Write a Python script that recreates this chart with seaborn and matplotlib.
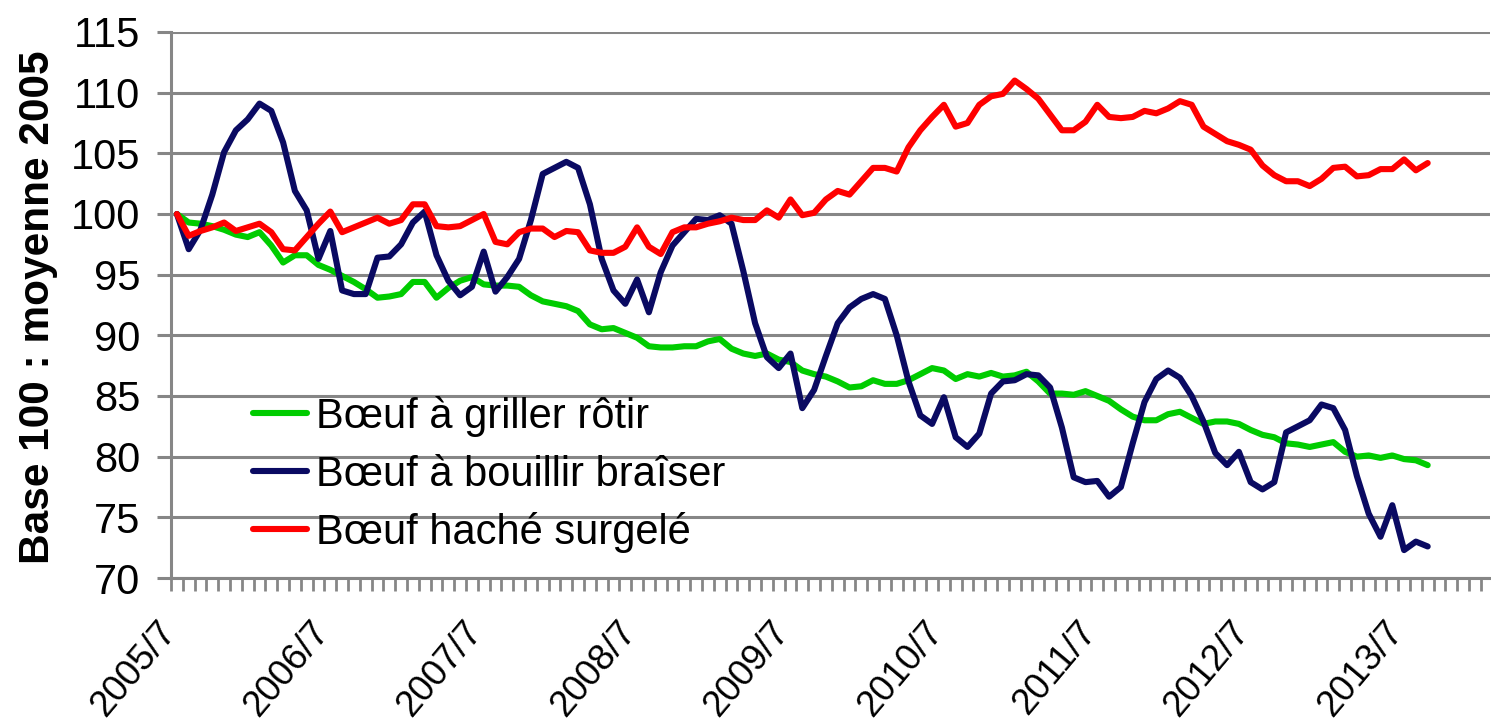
import numpy as np
import pandas as pd
import matplotlib
matplotlib.use("Agg")
import matplotlib.pyplot as plt
import seaborn as sns

# ---------------- DONNEES (périodes de 4 semaines, 13 par an) ---------------- #

GRILLER = [
    100.0, 99.3, 99.2, 99.0, 98.7, 98.3, 98.1, 98.5, 97.4, 96.0,
    96.6, 96.6, 95.8, 95.4, 94.9, 94.4, 93.8, 93.1, 93.2, 93.4,
    94.4, 94.4, 93.1, 93.9, 94.5, 94.8, 94.2, 94.1, 94.1, 94.0,
    93.3, 92.8, 92.6, 92.4, 92.0, 90.9, 90.5, 90.6, 90.2, 89.8,
    89.1, 89.0, 89.0, 89.1, 89.1, 89.5, 89.7, 88.9, 88.5, 88.3,
    88.5, 88.0, 87.8, 87.1, 86.8, 86.6, 86.2, 85.7, 85.8, 86.3,
    86.0, 86.0, 86.3, 86.8, 87.3, 87.1, 86.4, 86.8, 86.6, 86.9,
    86.6, 86.7, 87.0, 86.2, 85.2, 85.2, 85.1, 85.4, 85.0, 84.6,
    83.9, 83.3, 83.0, 83.0, 83.5, 83.7, 83.2, 82.7, 82.9, 82.9,
    82.7, 82.2, 81.8, 81.6, 81.1, 81.0, 80.8, 81.0, 81.2, 80.4,
    80.0, 80.1, 79.9, 80.1, 79.8, 79.7, 79.3,
]

BOUILLIR = [
    100.0, 97.1, 98.7, 101.6, 105.1, 106.9, 107.8, 109.1, 108.5, 105.9,
    101.9, 100.3, 96.3, 98.6, 93.7, 93.4, 93.4, 96.4, 96.5, 97.5,
    99.3, 100.2, 96.6, 94.5, 93.3, 94.0, 96.9, 93.6, 94.8, 96.3,
    99.5, 103.3, 103.8, 104.3, 103.8, 100.8, 96.3, 93.7, 92.6, 94.6,
    91.9, 95.2, 97.4, 98.5, 99.6, 99.5, 99.9, 99.2, 95.3, 91.0,
    88.2, 87.3, 88.5, 84.0, 85.5, 88.3, 91.0, 92.3, 93.0, 93.4,
    93.0, 90.0, 86.2, 83.4, 82.7, 84.9, 81.6, 80.8, 81.9, 85.2,
    86.2, 86.3, 86.8, 86.7, 85.7, 82.4, 78.3, 77.9, 78.0, 76.7,
    77.5, 81.1, 84.5, 86.4, 87.1, 86.5, 85.0, 82.9, 80.3, 79.3,
    80.4, 77.9, 77.3, 77.9, 82.0, 82.5, 83.0, 84.3, 84.0, 82.2,
    78.4, 75.3, 73.4, 76.0, 72.3, 73.0, 72.6,
]

HACHE = [
    100.0, 98.2, 98.6, 98.9, 99.3, 98.6, 98.9, 99.2, 98.5, 97.1,
    97.0, 98.1, 99.2, 100.2, 98.5, 98.9, 99.3, 99.7, 99.2, 99.5,
    100.8, 100.8, 99.0, 98.9, 99.0, 99.5, 100.0, 97.7, 97.5, 98.5,
    98.8, 98.8, 98.1, 98.6, 98.5, 97.0, 96.8, 96.8, 97.3, 98.9,
    97.3, 96.7, 98.5, 98.9, 98.9, 99.2, 99.4, 99.7, 99.5, 99.5,
    100.3, 99.7, 101.2, 99.9, 100.1, 101.2, 101.9, 101.6, 102.7, 103.8,
    103.8, 103.5, 105.5, 106.9, 108.0, 109.0, 107.2, 107.5, 109.0, 109.7,
    109.9, 111.0, 110.3, 109.5, 108.2, 106.9, 106.9, 107.6, 109.0, 108.0,
    107.9, 108.0, 108.5, 108.3, 108.7, 109.3, 109.0, 107.2, 106.6, 106.0,
    105.7, 105.3, 104.0, 103.2, 102.7, 102.7, 102.3, 102.9, 103.8, 103.9,
    103.1, 103.2, 103.7, 103.7, 104.5, 103.6, 104.2,
]

NOMS = ["Bœuf à griller rôtir", "Bœuf à bouillir braîser", "Bœuf haché surgelé"]
COULEURS = ["#00CC00", "#0A0A62", "#FF0000"]
TICK_LABELS = ["2005/7", "2006/7", "2007/7", "2008/7", "2009/7",
               "2010/7", "2011/7", "2012/7", "2013/7"]
PERIODES_PAR_AN = 13
N_CATEGORIES = 112

# ---------------- GRAPHIQUE ---------------- #

def main() -> None:
    df = pd.DataFrame({
        "periode": np.arange(len(GRILLER)),
        NOMS[0]: GRILLER,
        NOMS[1]: BOUILLIR,
        NOMS[2]: HACHE,
    }).melt(id_vars="periode", var_name="produit", value_name="indice")

    sns.set_theme(style="white")
    plt.rcParams["font.family"] = ["Liberation Sans", "DejaVu Sans"]
    plt.rcParams["text.color"] = "black"
    plt.rcParams["axes.labelcolor"] = "black"

    fig = plt.figure(figsize=(14.91, 7.23), dpi=100)
    ax = fig.add_axes([171 / 1491, 145 / 723, 1319 / 1491, 546 / 723])

    sns.lineplot(data=df, x="periode", y="indice", hue="produit",
                 hue_order=NOMS, palette=COULEURS, linewidth=4.4,
                 errorbar=None, ax=ax,
                 solid_joinstyle="round", solid_capstyle="round")

    grey = "#868686"
    ax.set_xlim(-0.5, N_CATEGORIES - 0.72)
    ax.set_ylim(70, 115)
    ax.set_yticks(range(70, 116, 5))
    ax.yaxis.grid(True, color=grey, linewidth=2.2)
    ax.set_axisbelow(True)
    for s in ["top", "right"]:
        ax.spines[s].set_visible(False)
    for s in ["left", "bottom"]:
        ax.spines[s].set_color(grey)
        ax.spines[s].set_linewidth(2.2)

    ax.set_xticks(np.arange(len(TICK_LABELS)) * PERIODES_PAR_AN)
    ax.set_xticklabels(TICK_LABELS, rotation=50, ha="right", va="baseline",
                       rotation_mode="anchor", fontsize=26.5)
    ax.set_xticks(np.arange(N_CATEGORIES) - 0.5, minor=True)
    ax.tick_params(axis="x", which="major", length=0, pad=39, bottom=True,
                   labelcolor="black")
    ax.tick_params(axis="x", which="minor", length=9, width=2, color=grey,
                   direction="out", bottom=True)
    ax.tick_params(axis="y", length=10, width=2.2, color=grey, direction="out",
                   left=True, labelsize=30, pad=12, labelcolor="black")

    ax.set_xlabel("")
    ax.set_ylabel("Base 100 : moyenne 2005", fontsize=30.5, fontweight="bold")
    ax.yaxis.set_label_coords(-0.0857, 0.496)

    handles, labels = ax.get_legend_handles_labels()
    ax.legend(handles, labels, loc="upper left",
              bbox_to_anchor=(253 / 1491, 1 - 396 / 723),
              bbox_transform=fig.transFigure, frameon=False, fontsize=30,
              handlelength=1.3, handletextpad=0.22, labelspacing=0.42,
              borderpad=0, borderaxespad=0)

    fig.savefig("out.png", dpi=100, facecolor="white")
    plt.close(fig)


if __name__ == "__main__":
    main()
